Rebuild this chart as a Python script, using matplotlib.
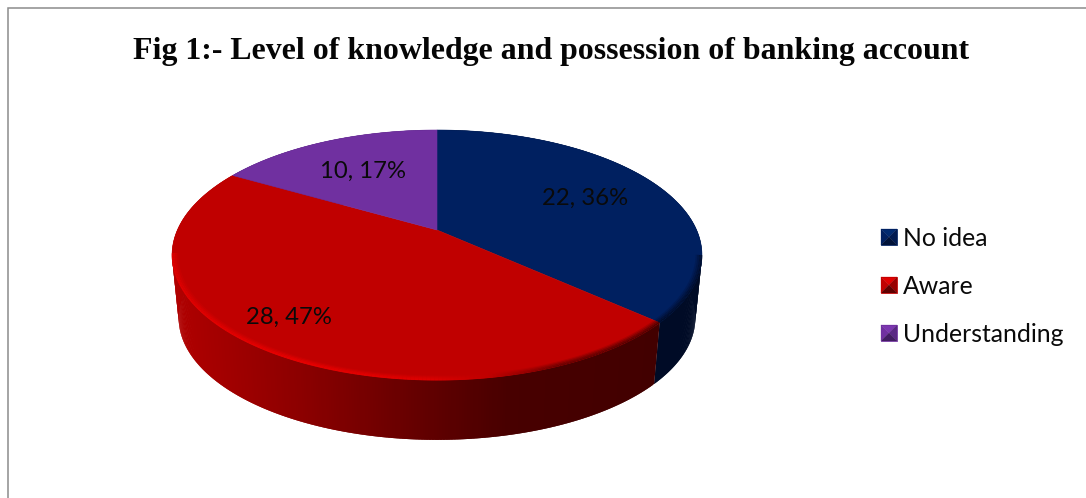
"""
Pie chart with a tilted 3D look: level of knowledge and possession of banking account.
"""
import numpy as np
import matplotlib
matplotlib.use('Agg')
import matplotlib.pyplot as plt
from matplotlib.collections import LineCollection, PolyCollection
from matplotlib.patches import Polygon

categories = ['No idea', 'Aware', 'Understanding']
counts = [22, 28, 10]
percents = [36, 47, 17]
title = 'Fig 1:- Level of knowledge and possession of banking account'

top_colors = ['#002060', '#c00000', '#7030a0']
square_shades = [
    ['#002a70', '#002060', '#001a50', '#001238'],
    ['#e00000', '#c00000', '#980000', '#600000'],
    ['#7c36b0', '#7030a0', '#5a2884', '#421c62'],
]

# geometry of the disc in pixels
APEX_X, APEX_Y = 437, 230
RADIUS, TILT, PERSPECTIVE = 259.6, 120, 0.2
LOWER_SCALE, LOWER_APEX_Y = 0.975, 293.6

LABEL_FONT = ['Lato', 'DejaVu Sans']


def disc_point(angle, scale=1.0):
    """Project a clockwise angle from 12 o'clock onto the tilted disc."""
    u = scale * np.sin(angle)
    v = scale * np.cos(angle)
    w = 1 + PERSPECTIVE * v
    return APEX_X + RADIUS * u / w, APEX_Y - TILT * v / w


def lower_point(angle):
    x, y = disc_point(angle)
    return APEX_X + LOWER_SCALE * (x - APEX_X), LOWER_APEX_Y + LOWER_SCALE * (y - APEX_Y)


def wall_shade(index, x):
    """Colour of the side wall, getting darker from left to right."""
    if index == 1:
        reds = np.interp(x, [172, 230, 300, 420, 510, 660], [176, 160, 140, 100, 72, 66])
        return (reds / 255, 0, 0)
    if index == 0:
        return (0, 0.045, 0.15)
    return (0.25, 0.1, 0.4)


def rim_shade(index, x):
    """Colour of the soft band along the front edge of the top face."""
    if index == 1:
        reds = np.interp(x, [172, 300, 430, 490, 560, 660], [225, 232, 222, 192, 110, 80])
        return (reds / 255, 0, 0)
    return (0, 0.05, 0.17)


fig = plt.figure(figsize=(10.86, 4.98), dpi=100)
ax = fig.add_axes([0, 0, 1, 1])
ax.set_xlim(0, 1086)
ax.set_ylim(498, 0)
ax.axis('off')

# outer frame, open on the right and at the bottom
ax.plot([8, 8, 1086], [498, 8, 8], color='#8c8c8c', lw=1.1, solid_joinstyle='miter')

ax.text(551.5, 51, title, ha='center', va='center', fontsize=22.95, fontweight='bold',
        family='Liberation Serif', color='#050505')

edges = np.radians(np.cumsum([0] + counts) / sum(counts) * 360)

# side wall first, so the top face covers its hidden part
step = np.radians(0.5)
for index in range(len(counts)):
    angles = np.arange(edges[index], edges[index + 1], step)
    quads = []
    shades = []
    for a0 in angles:
        # each strip runs into the next one so no seams show between them
        a1 = min(a0 + 2 * step, edges[index + 1])
        p0, p1 = disc_point(a0), disc_point(a1)
        q0, q1 = lower_point(a0), lower_point(a1)
        quads.append([p0, p1, q1, q0])
        shades.append(wall_shade(index, p0[0]))
    ax.add_collection(PolyCollection(quads, facecolors=shades, edgecolors='none'))

# top face of each slice
for index in range(len(counts)):
    angles = np.linspace(edges[index], edges[index + 1], 200)
    x, y = disc_point(angles)
    outline = np.column_stack([np.append(x, APEX_X), np.append(y, APEX_Y)])
    ax.add_patch(Polygon(outline, closed=True, facecolor=top_colors[index],
                         edgecolor=top_colors[index], lw=0.4))

# soft band following the front rim, fading towards the middle of the disc
for scale, alpha in zip([0.998, 0.992, 0.986, 0.98], [1.0, 0.75, 0.45, 0.2]):
    for index in range(2):
        angles = np.linspace(edges[index], edges[index + 1], 240)
        x, y = disc_point(angles, scale)
        points = np.column_stack([x, y])
        segments = np.stack([points[:-1], points[1:]], axis=1)[y[:-1] > APEX_Y + 24]
        shades = [rim_shade(index, sx) for sx in x[:-1][y[:-1] > APEX_Y + 24]]
        ax.add_collection(LineCollection(segments, colors=shades, linewidths=1.2, alpha=alpha))

# value labels
label_spots = [(585, 198), (289, 317), (363, 171)]
for count, percent, (x, y) in zip(counts, percents, label_spots):
    ax.text(x, y, f'{count}, {percent}%', ha='center', va='center', fontsize=17.2,
            family=LABEL_FONT, color='#0a0a0a')

# legend with bevelled squares
square = 16
for index, name in enumerate(categories):
    x0 = 881
    y0 = 229 + 48 * index
    corners = [(x0, y0), (x0 + square, y0), (x0 + square, y0 + square), (x0, y0 + square)]
    middle = (x0 + square / 2, y0 + square / 2)
    top, left, right, bottom = square_shades[index]
    faces = [(corners[0], corners[1], top), (corners[3], corners[0], left),
             (corners[1], corners[2], right), (corners[2], corners[3], bottom)]
    for a, b, shade in faces:
        ax.add_patch(Polygon([a, b, middle], closed=True, facecolor=shade, edgecolor=shade, lw=0.2))
    ax.add_patch(Polygon(corners, closed=True, fill=False, edgecolor=top_colors[index], lw=0.6))
    ax.text(903, y0 + 9, name, ha='left', va='center', fontsize=17.8,
            family=LABEL_FONT, color='#0a0a0a')

fig.savefig('out.png', dpi=100)
